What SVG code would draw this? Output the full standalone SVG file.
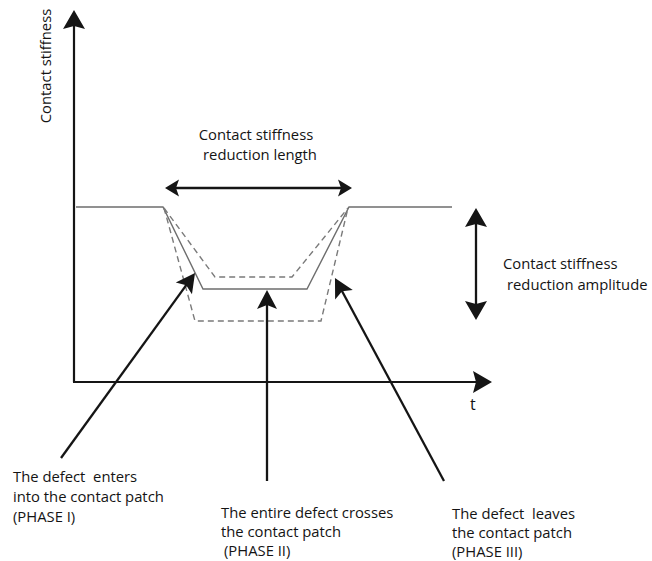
<svg xmlns="http://www.w3.org/2000/svg" width="652" height="561" viewBox="0 0 652 561">
<style>
text{font-family:"Open Sans","Noto Sans","Liberation Sans",sans-serif;font-size:14.8px;fill:#141414}
.ax{stroke:#151515;stroke-width:2.2;fill:none}
.ptr{stroke:#151515;stroke-width:2.3;fill:none}
.curve{stroke:#6e6e6e;stroke-width:1.4;fill:none;stroke-linejoin:miter}
.dash{stroke:#7a7a7a;stroke-width:1.4;fill:none;stroke-dasharray:6 4}
</style>
<defs>
<marker id="hBig" markerUnits="userSpaceOnUse" markerWidth="40" markerHeight="40" refX="0" refY="0" orient="auto-start-reverse" overflow="visible">
<path d="M-13,-10 L6,0 L-13,10 L-9,0 Z" fill="#151515"/>
</marker>
<marker id="hAxis" markerUnits="userSpaceOnUse" markerWidth="40" markerHeight="40" refX="0" refY="0" orient="auto-start-reverse" overflow="visible">
<path d="M-13,-11 L6,0 L-13,11 L-10,0 Z" fill="#151515"/>
</marker>
<marker id="hMid" markerUnits="userSpaceOnUse" markerWidth="40" markerHeight="40" refX="0" refY="0" orient="auto-start-reverse" overflow="visible">
<path d="M-9,-8.5 L5,0 L-9,8.5 L-6,0 Z" fill="#151515"/>
</marker>
</defs>
<rect width="652" height="561" fill="#ffffff"/>

<g id="axes">
<line class="ax" x1="74" y1="382" x2="74" y2="16" marker-end="url(#hAxis)"/>
<line class="ax" x1="73" y1="382" x2="486" y2="382" marker-end="url(#hAxis)"/>
</g>

<g id="curves">
<polyline class="curve" points="76,207 163,207 203,289 307,289 349,207 452,207"/>
<polyline class="dash" points="164,208 215,277 292,277 348,208"/>
<polyline class="dash" points="164,208 195,321 321,321 348,208"/>
</g>

<g id="connectors">
<line class="ptr" x1="170" y1="188" x2="347" y2="188" marker-start="url(#hMid)" marker-end="url(#hMid)"/>
<line class="ptr" x1="476" y1="214" x2="476" y2="314" marker-start="url(#hAxis)" marker-end="url(#hAxis)"/>
<line class="ptr" x1="61" y1="458" x2="191.5" y2="277.9" marker-end="url(#hBig)"/>
<line class="ptr" x1="267" y1="481" x2="267" y2="296" marker-end="url(#hBig)"/>
<line class="ptr" x1="444" y1="481" x2="337.8" y2="283.3" marker-end="url(#hBig)"/>
</g>

<g id="label-y-axis">
<text transform="translate(51,66) rotate(-90)" text-anchor="middle">Contact stiffness</text>
</g>
<g id="label-t">
<text x="470" y="410" style="font-size:16px">t</text>
</g>
<g id="label-length">
<text x="256" y="140" text-anchor="middle">Contact stiffness</text>
<text x="260" y="160" text-anchor="middle">reduction length</text>
</g>
<g id="label-amplitude">
<text x="503" y="269">Contact stiffness</text>
<text x="507" y="290">reduction amplitude</text>
</g>
<g id="label-phase1">
<text x="13" y="482" xml:space="preserve">The defect  enters</text>
<text x="13" y="502">into the contact patch</text>
<text x="13" y="522">(PHASE I)</text>
</g>
<g id="label-phase2">
<text x="221" y="518">The entire defect crosses</text>
<text x="221" y="537">the contact patch</text>
<text x="224" y="556">(PHASE II)</text>
</g>
<g id="label-phase3">
<text x="452" y="519" xml:space="preserve">The defect  leaves</text>
<text x="452" y="538">the contact patch</text>
<text x="452" y="557">(PHASE III)</text>
</g>
</svg>
